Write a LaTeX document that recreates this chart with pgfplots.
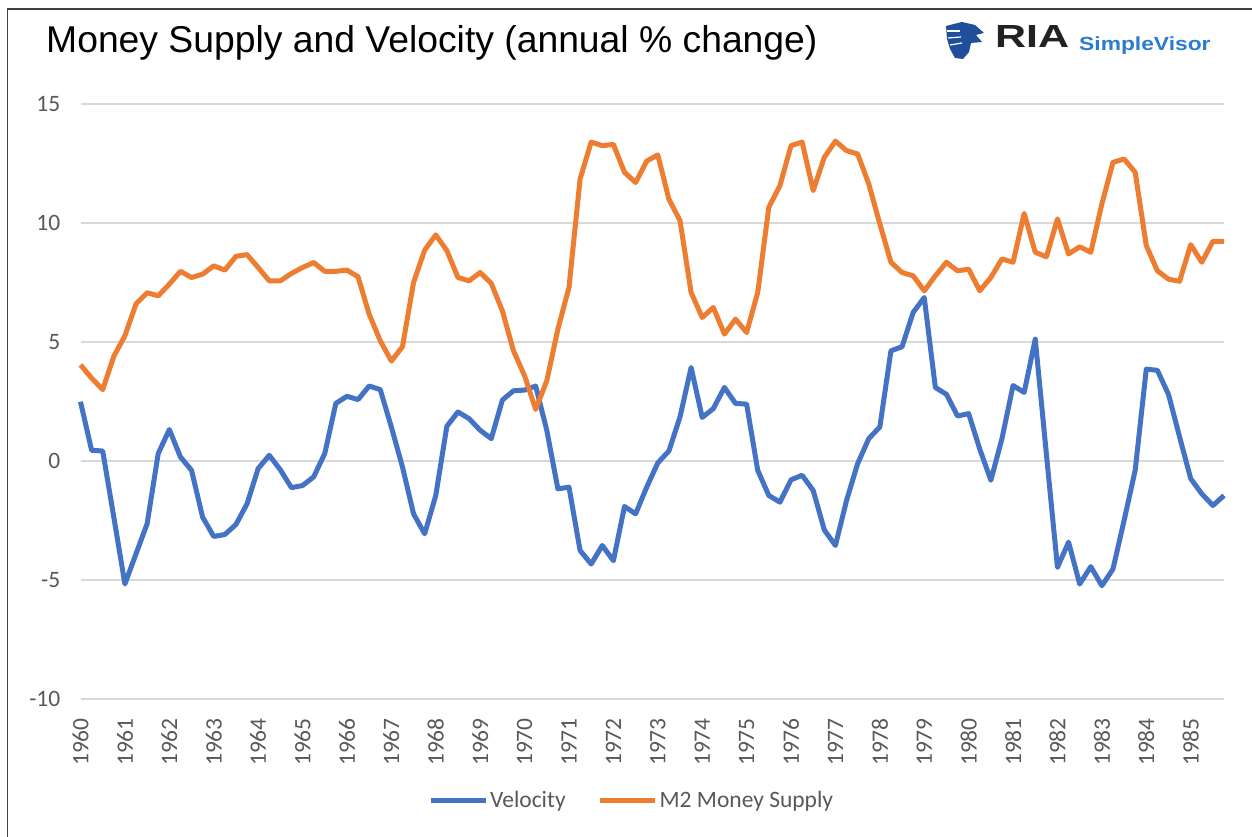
\documentclass[border=0pt]{standalone}
\usepackage{pgfplots}
\pgfplotsset{compat=1.18}
\usepackage{pgfplotstable}
\usepackage{fontspec}
\setmainfont{Carlito}
\newfontfamily\arialfont{Liberation Sans}
\definecolor{velblue}{HTML}{4472C4}
\definecolor{m2orange}{HTML}{ED7D31}
\definecolor{gridgray}{HTML}{D9D9D9}
\definecolor{labgray}{HTML}{595959}
\definecolor{logoblue}{HTML}{2B7BCF}
\definecolor{iconblue}{HTML}{1F4E9A}
\definecolor{riadark}{HTML}{222222}

\pgfplotstableread{
i V M
0 2.49 4.04
1 0.45 3.48
2 0.42 3.00
3 -2.36 4.40
4 -5.17 5.26
5 -3.90 6.60
6 -2.64 7.07
7 0.31 6.94
8 1.32 7.43
9 0.17 7.97
10 -0.39 7.71
11 -2.36 7.85
12 -3.17 8.20
13 -3.09 8.02
14 -2.67 8.60
15 -1.80 8.67
16 -0.32 8.13
17 0.24 7.57
18 -0.37 7.57
19 -1.12 7.88
20 -1.03 8.13
21 -0.67 8.34
22 0.31 7.97
23 2.42 7.97
24 2.72 8.02
25 2.58 7.74
26 3.15 6.17
27 3.00 5.05
28 1.43 4.20
29 -0.25 4.80
30 -2.22 7.50
31 -3.06 8.86
32 -1.45 9.50
33 1.46 8.84
34 2.06 7.71
35 1.78 7.57
36 1.29 7.92
37 0.94 7.46
38 2.56 6.31
39 2.95 4.63
40 2.98 3.58
41 3.15 2.17
42 1.29 3.37
43 -1.17 5.54
44 -1.10 7.29
45 -3.76 11.85
46 -4.33 13.40
47 -3.55 13.25
48 -4.19 13.30
49 -1.91 12.13
50 -2.22 11.70
51 -1.10 12.60
52 -0.08 12.86
53 0.42 11.00
54 1.85 10.10
55 3.93 7.08
56 1.83 6.03
57 2.20 6.45
58 3.09 5.33
59 2.42 5.96
60 2.39 5.40
61 -0.39 7.08
62 -1.45 10.66
63 -1.73 11.57
64 -0.79 13.25
65 -0.60 13.40
66 -1.24 11.36
67 -2.90 12.76
68 -3.55 13.44
69 -1.66 13.04
70 -0.11 12.90
71 0.94 11.64
72 1.43 9.96
73 4.63 8.35
74 4.80 7.92
75 6.24 7.78
76 6.87 7.15
77 3.09 7.78
78 2.80 8.35
79 1.89 7.99
80 1.99 8.06
81 0.50 7.15
82 -0.81 7.71
83 0.94 8.49
84 3.17 8.35
85 2.88 10.40
86 5.12 8.77
87 0.30 8.58
88 -4.47 10.17
89 -3.41 8.70
90 -5.17 9.00
91 -4.44 8.77
92 -5.24 10.80
93 -4.54 12.55
94 -2.50 12.69
95 -0.39 12.13
96 3.86 9.05
97 3.81 7.99
98 2.80 7.64
99 1.01 7.55
100 -0.74 9.09
101 -1.38 8.35
102 -1.87 9.23
103 -1.45 9.23
}\datatable

\begin{document}
\begin{tikzpicture}
\path[use as bounding box] (0pt,0pt) rectangle (1252pt,837pt);
\fill[white] (0pt,0pt) rectangle (1252pt,837pt);
% frame lines (top and left)
\draw[line width=1.5pt, black!75] (7.5pt,0pt) -- (7.5pt,828pt) -- (1252pt,828pt);
% title
\node[anchor=base west, inner sep=0pt, font=\arialfont\fontsize{37.3}{44}\selectfont] at (46pt,784pt) {Money Supply and Velocity (annual \% change)};
% logo icon
\fill[iconblue] (946pt,811pt) -- (962pt,815pt) -- (975pt,812pt) -- (984pt,804pt) -- (976pt,802pt) -- (982pt,795pt) -- (971pt,794pt) -- (969pt,785pt) -- (963pt,778pt) -- (955pt,779pt) -- (950pt,788pt) -- (947pt,798pt) -- cycle;
\draw[white, line width=1.2pt] (947pt,806pt) -- (960pt,806pt);
\draw[white, line width=1.2pt] (948pt,799pt) -- (961pt,800pt);
\draw[white, line width=1.2pt] (950pt,792pt) -- (962pt,794pt);
\node[anchor=base west, inner sep=0pt, text=riadark] at (995pt,789pt) {\resizebox{74pt}{22pt}{\arialfont\bfseries RIA}};
\node[anchor=base west, inner sep=0pt, text=logoblue] at (1079pt,786pt) {\scalebox{1.2}[1.0]{\arialfont\bfseries\fontsize{19}{22}\selectfont SimpleVisor}};
\begin{axis}[
  at={(80.5pt,138pt)}, anchor=south west,
  scale only axis, width=1143.5pt, height=595pt,
  xmin=0, xmax=103, ymin=-10, ymax=15,
  clip=false,
  axis line style={draw=none},
  tick style={draw=none},
  ytick={-10,-5,0,5,10,15},
  ymajorgrids, grid style={gridgray, line width=1.5pt},
  xtick={0,4,...,100},
  xticklabels={1960,1961,1962,1963,1964,1965,1966,1967,1968,1969,1970,1971,1972,1973,1974,1975,1976,1977,1978,1979,1980,1981,1982,1983,1984,1985},
  /pgf/number format/assume math mode=true,
  ticklabel style={font=\fontsize{23.5}{26}\selectfont, text=labgray, inner sep=0pt},
  xticklabel style={rotate=90, anchor=east},
  xticklabel shift=19pt,
  yticklabel style={anchor=east},
  yticklabel shift=20pt,
  legend style={at={(0.482,-0.170)}, anchor=center, draw=none, fill=none,
    legend columns=2, font=\fontsize{23.5}{26}\selectfont, text=labgray,
    /tikz/every even column/.append style={column sep=30pt},
    inner sep=0pt},
  legend image code/.code={\draw[#1, line width=5pt] (0pt,0pt) -- (55pt,0pt);},
]
\addplot[velblue, line width=5pt, line join=round] table[x=i, y=V] {\datatable};
\addlegendentry{Velocity}
\addplot[m2orange, line width=5pt, line join=round] table[x=i, y=M] {\datatable};
\addlegendentry{M2 Money Supply}
\end{axis}
\end{tikzpicture}
\end{document}
